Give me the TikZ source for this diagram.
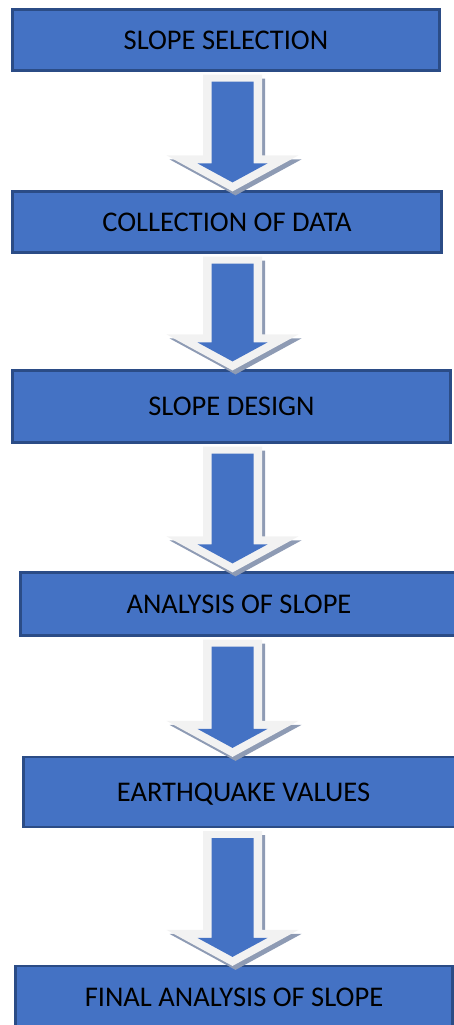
\documentclass[tikz,border=0pt]{standalone}
\usepackage{fontspec}
\setmainfont{Carlito}
\usetikzlibrary{calc}

\definecolor{boxblue}{HTML}{4472C4}
\definecolor{boxline}{HTML}{2B4C86}
\definecolor{arrowrim}{HTML}{F2F2F2}
\definecolor{arrowshade}{HTML}{8E9BB4}

\tikzstyle{stage} = [draw=boxline, fill=boxblue, line width=2.2pt, inner sep=0pt,
    text centered, text height=18pt, text depth=0pt, font=\fontsize{28.5}{34}\selectfont]

% outline of one block arrow, from top coordinate #1 to tip coordinate #2
\newcommand{\arrowbody}[2]{($(#1)+(-29.5,0)$) -- ($(#1)+(29.5,0)$) -- ($(#2)+(29.5,-36)$)
    -- ($(#2)+(66,-36)$) -- (#2) -- ($(#2)+(-66,-36)$) -- ($(#2)+(-29.5,-36)$) -- cycle}

% block arrow from node #1 down to node #2
\newcommand{\flowarrow}[2]{%
    \coordinate (t) at ($(axis |- #1.south)+(0,3)$);
    \coordinate (p) at ($(axis |- #2.north)+(0,1)$);
    \coordinate (ts) at ($(t)+(3,4)$);
    \coordinate (ps) at ($(p)+(3,4)$);
    \fill[arrowshade] \arrowbody{ts}{ps};
    \fill[arrowrim] \arrowbody{t}{p};
    \fill[boxblue] ($(t)+(-21,7)$) -- ($(t)+(21,7)$) -- ($(p)+(21,-28)$) -- ($(p)+(35,-28)$)
        -- ($(p)+(0,-9)$) -- ($(p)+(-35,-28)$) -- ($(p)+(-21,-28)$) -- cycle;
}

\begin{document}
\begin{tikzpicture}[x=1pt, y=-1pt]
\useasboundingbox (0,0) rectangle (454,1025);
\coordinate (axis) at (232.5,0);
%stages
\node[stage, minimum width=427pt, minimum height=61pt] (sel) at (226,40) {SLOPE SELECTION};
\node[stage, minimum width=429pt, minimum height=61pt] (col) at (227,222) {COLLECTION OF DATA};
\node[stage, minimum width=438pt, minimum height=72pt] (des) at (231.5,406.5) {SLOPE DESIGN};
\node[stage, minimum width=437pt, minimum height=63pt] (ana) at (239,604) {ANALYSIS OF SLOPE};
\node[stage, minimum width=440pt, minimum height=70pt] (eq) at (243.5,792) {EARTHQUAKE VALUES};
\node[stage, minimum width=437pt, minimum height=62pt] (fin) at (234,997) {FINAL ANALYSIS OF SLOPE};
%arrows
\flowarrow{sel}{col}
\flowarrow{col}{des}
\flowarrow{des}{ana}
\flowarrow{ana}{eq}
\flowarrow{eq}{fin}
\end{tikzpicture}
\end{document}
